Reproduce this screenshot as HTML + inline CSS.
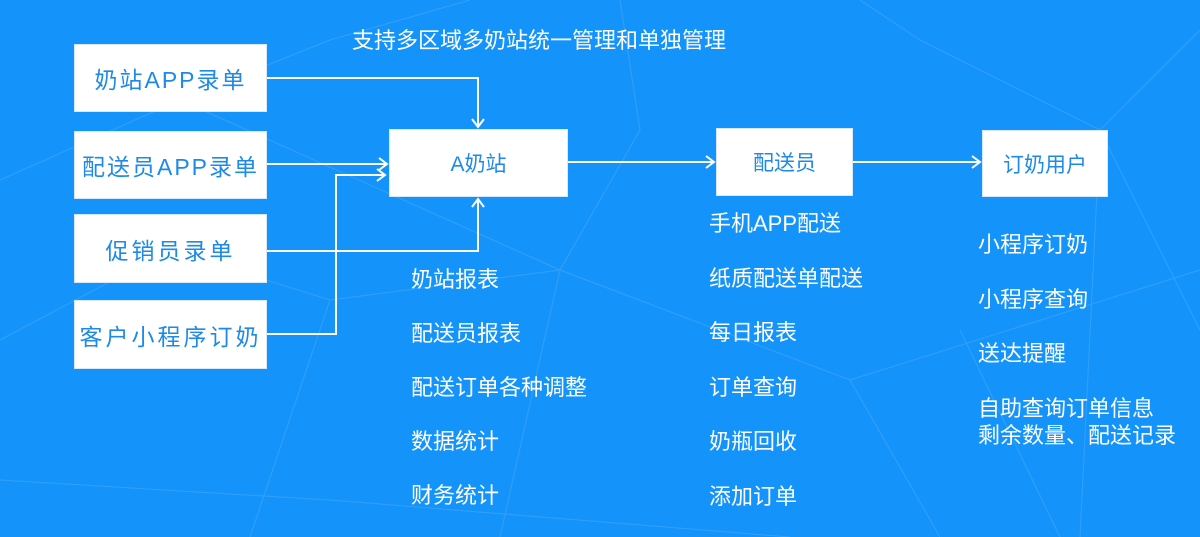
<!DOCTYPE html>
<html><head><meta charset="utf-8"><style>
body{margin:0;width:1200px;height:537px;overflow:hidden;background:#1494fb;font-family:"Liberation Sans","Noto Sans CJK SC",sans-serif;position:relative}
.b{position:absolute;background:#fff;border:1px solid #d8e8f8;box-sizing:border-box;color:#1e8ae8;display:flex;align-items:center;justify-content:center;font-size:23px;letter-spacing:2px}
.t{position:absolute;color:#fff;font-size:22px;line-height:27px;white-space:nowrap}
svg{position:absolute;left:0;top:0}
</style></head><body>
<svg width="1200" height="537">
<g stroke="#4aa8f5" stroke-width="1" opacity="0.6" fill="none">
<path d="M0 180 L180 100 L330 40 L470 0 M180 100 L560 270 L850 380 L1200 270 M620 0 L640 130 L560 270 L500 537 M0 340 L170 250 L330 300 L560 270 M860 0 L920 40 L1100 130 L1200 30 M1100 130 L1080 537 M850 380 L940 537 M0 480 L330 500 L790 537 M960 330 L1060 537 M330 300 L250 537 M1100 130 L1200 330"/>
</g>
<g stroke="#fff" stroke-width="2" fill="none">
<path d="M267 78 H478 V127"/><path d="M472 119 L478 127 L484 119"/>
<path d="M267 164 H387"/><path d="M379 158 L387 164 L379 170"/>
<path d="M267 334 H336 V175 H385"/><path d="M377 169 L385 175 L377 181"/>
<path d="M267 251 H478 V199"/><path d="M472 207 L478 199 L484 207"/>
<path d="M568 162 H714"/><path d="M706 156 L714 162 L706 168"/>
<path d="M853 162 H980"/><path d="M972 156 L980 162 L972 168"/>
</g>
</svg>
<div class="t" style="left:352px;top:27px">支持多区域多奶站统一管理和单独管理</div>
<div class="b" style="left:74px;top:44px;width:193px;height:68px">奶站APP录单</div>
<div class="b" style="left:74px;top:131px;width:193px;height:68px">配送员APP录单</div>
<div class="b" style="left:74px;top:214px;width:193px;height:69px;letter-spacing:3px">促销员录单</div>
<div class="b" style="left:74px;top:300px;width:193px;height:69px;letter-spacing:3px">客户小程序订奶</div>
<div class="b" style="left:389px;top:129px;width:179px;height:68px;font-size:21px;letter-spacing:0">A奶站</div>
<div class="b" style="left:716px;top:128px;width:137px;height:68px;font-size:21px;letter-spacing:0">配送员</div>
<div class="b" style="left:982px;top:130px;width:126px;height:67px;font-size:21px;letter-spacing:0">订奶用户</div>
<div class="t" style="left:411px;top:266px">奶站报表</div>
<div class="t" style="left:411px;top:320px">配送员报表</div>
<div class="t" style="left:411px;top:374px">配送订单各种调整</div>
<div class="t" style="left:411px;top:428px">数据统计</div>
<div class="t" style="left:411px;top:482px">财务统计</div>
<div class="t" style="left:709px;top:210px">手机APP配送</div>
<div class="t" style="left:709px;top:265px">纸质配送单配送</div>
<div class="t" style="left:709px;top:319px">每日报表</div>
<div class="t" style="left:709px;top:374px">订单查询</div>
<div class="t" style="left:709px;top:428px">奶瓶回收</div>
<div class="t" style="left:709px;top:483px">添加订单</div>
<div class="t" style="left:978px;top:231px">小程序订奶</div>
<div class="t" style="left:978px;top:286px">小程序查询</div>
<div class="t" style="left:978px;top:340px">送达提醒</div>
<div class="t" style="left:978px;top:395px">自助查询订单信息</div>
<div class="t" style="left:978px;top:422px">剩余数量、配送记录</div>
</body></html>
